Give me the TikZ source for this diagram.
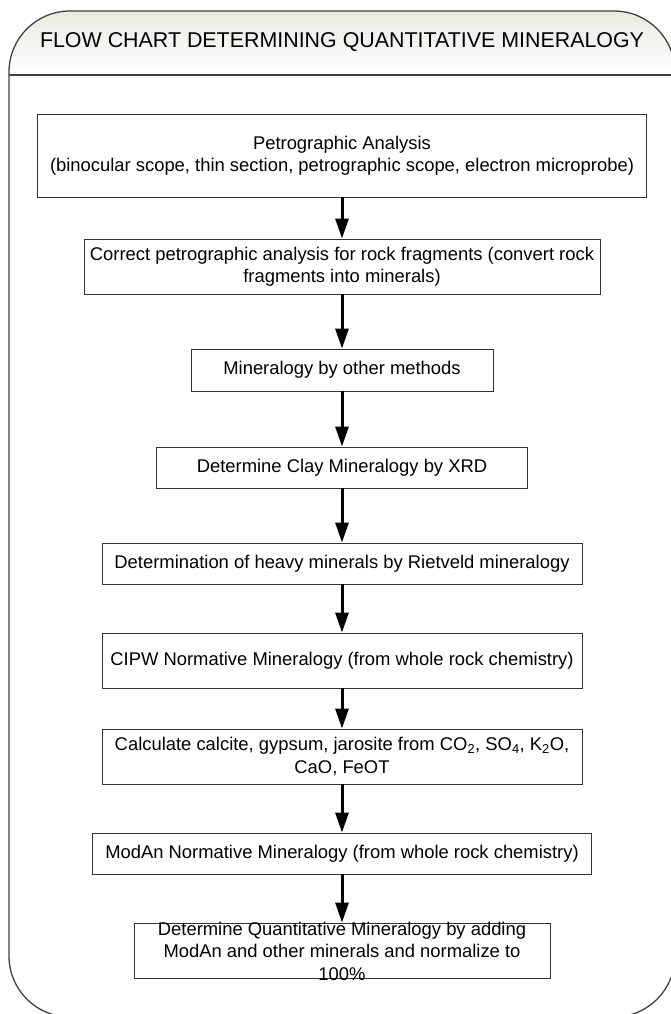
\documentclass[tikz,border=0pt]{standalone}
\usepackage{fontspec}
\setmainfont{Liberation Sans}
\usetikzlibrary{arrows.meta}

\definecolor{bandtop}{RGB}{233,234,225}

\begin{document}
\begin{tikzpicture}[
  x=1pt, y=-1pt,
  font=\fontsize{18.4}{22.5}\selectfont,
  block/.style={rectangle, draw=black!80, line width=0.9pt, align=center, inner sep=2pt},
  link/.style={-{Triangle[length=20pt, width=13pt]}, line width=3pt},
  frame/.style={draw=black!75, line width=1.3pt}
]
\useasboundingbox (0,0) rectangle (671,1014);
\clip (0,0) rectangle (671,1014);

% outer frame with title band
\begin{scope}
  \clip[rounded corners=61pt] (9,11) rectangle (675,1017);
  \shade[top color=bandtop, bottom color=white] (9,11) rectangle (675,75);
\end{scope}
\draw[frame, rounded corners=61pt] (9,11) rectangle (675,1017);
\draw[frame] (9,75) -- (675,75);
\node[font=\fontsize{21.4}{24}\selectfont] (title) at (342,42) {FLOW CHART DETERMINING QUANTITATIVE MINERALOGY};

% steps
\node[block, minimum width=609, minimum height=83] (petro) at (342,155.5)
  {Petrographic Analysis\\(binocular scope, thin section, petrographic scope, electron microprobe)};
\node[block, minimum width=516, minimum height=55] (correct) at (342,266.5)
  {Correct petrographic analysis for rock fragments (convert rock\\fragments into minerals)};
\node[block, minimum width=302, minimum height=42] (other) at (342,370)
  {Mineralogy by other methods};
\node[block, minimum width=371, minimum height=41] (clay) at (342,467.5)
  {Determine Clay Mineralogy by XRD};
\node[block, minimum width=480, minimum height=41] (heavy) at (342,563.5)
  {Determination of heavy minerals by Rietveld mineralogy};
\node[block, minimum width=480, minimum height=55] (cipw) at (342,660.5)
  {CIPW Normative Mineralogy (from whole rock chemistry)};
\node[block, minimum width=480, minimum height=55] (calc) at (342,756.5)
  {Calculate calcite, gypsum, jarosite from CO\textsubscript{2}, SO\textsubscript{4}, K\textsubscript{2}O,\\CaO, FeOT};
\node[block, minimum width=499, minimum height=41] (modan) at (342,853.5)
  {ModAn Normative Mineralogy (from whole rock chemistry)};
\node[block, minimum width=416, minimum height=55] (quant) at (342,950.5) {};
\node[align=center] (quanttext) at (342,951)
  {Determine Quantitative Mineralogy by adding\\ModAn and other minerals and normalize to\\100\%};

\draw[link] (petro) -- (correct);
\draw[link] (correct) -- (other);
\draw[link] (other) -- (clay);
\draw[link] (clay) -- (heavy);
\draw[link] (heavy) -- (cipw);
\draw[link] (cipw) -- (calc);
\draw[link] (calc) -- (modan);
\draw[link] (modan) -- (quant);
\end{tikzpicture}
\end{document}
